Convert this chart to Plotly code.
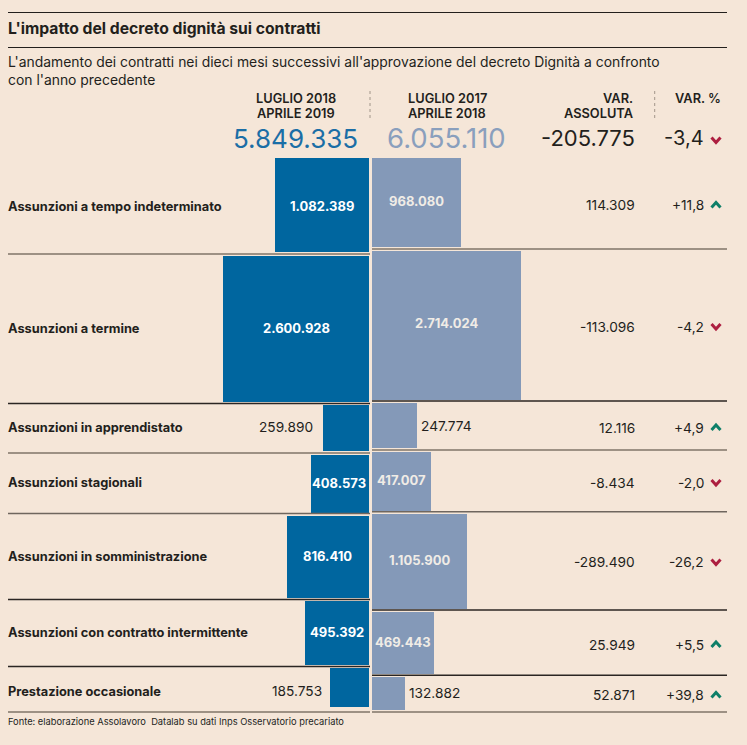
import math
import plotly.graph_objects as go

categories = ["Assunzioni a tempo indeterminato", "Assunzioni a termine", "Assunzioni in apprendistato",
              "Assunzioni stagionali", "Assunzioni in somministrazione",
              "Assunzioni con contratto intermittente", "Prestazione occasionale"]
period_2019 = [1082389, 2600928, 259890, 408573, 816410, 495392, 185753]
period_2018 = [968080, 2714024, 247774, 417007, 1105900, 469443, 132882]
var_abs = [114309, -113096, 12116, -8434, -289490, 25949, 52871]
var_pct = [11.8, -4.2, 4.9, -2.0, -26.2, 5.5, 39.8]
total_2019 = 5849335
total_2018 = 6055110
total_abs = -205775
total_pct = -3.4

# layout, in page pixels (the axes run 0-747 and 745-0)
K = 0.0906  # square side per sqrt(contract)
LEFT_EDGE = 369
RIGHT_EDGE = 372
left_top = [158, 256, 405, 455, 515.7, 601, 668]
right_top = [158, 251, 403, 452, 514, 612, 677]
left_rules = [254, 403.5, 453, 513.5, 599.5, 666.5, 712]
right_rules = [249, 401, 450, 511.7, 610, 675.3, 712]
rule_colors = ["#7f7569", "#2b2623", "#7f7569", "#6f665e", "#2b2623", "#2b2623", "#7f7569"]
label_y = [206, 328, 427, 482.5, 556, 632, 691]
left_val_y = [206, 328, 427, 482.5, 556, 632, 691]
right_val_y = [201, 323, 425.7, 480, 560, 641.7, 693.3]
var_y = [205, 326.5, 427.5, 482.5, 562, 644.5, 695]
left_val_x = [321.5, 296, 313, 339, 327.5, 337, 322]
right_val_x = [416.7, 446, 420.7, 401, 420, 403, 408.7]

BG = "#f5e6d8"
BLUE = "#00669f"
GREY_BLUE = "#8499b8"
INK = "#231f1c"
RED = "#ad1f40"
GREEN = "#0e7f68"
FONT = "Inter"


def num(v):
    return f"{v:,}".replace(",", ".")


def pct(v, sign=True):
    s = f"{v:+.1f}" if sign else f"{v:.1f}"
    return s.replace(".", ",")


left_side = [K * math.sqrt(v) for v in period_2019]
right_side = [K * math.sqrt(v) for v in period_2018]

fig = go.Figure()
fig.add_trace(go.Bar(orientation="h", x=left_side, base=[LEFT_EDGE - s for s in left_side],
                     y=[t + s / 2 for t, s in zip(left_top, left_side)], width=left_side,
                     marker=dict(color=BLUE, line_width=0), hoverinfo="skip"))
fig.add_trace(go.Bar(orientation="h", x=right_side, base=[RIGHT_EDGE] * 7,
                     y=[t + s / 2 for t, s in zip(right_top, right_side)], width=right_side,
                     marker=dict(color=GREY_BLUE, line_width=0), hoverinfo="skip"))

# chevrons
for v, y in zip([total_pct] + var_pct, [140] + var_y):
    d = 1 if v < 0 else -1
    fig.add_trace(go.Scatter(x=[711.5, 716, 720.5], y=[y - d * 2.5, y + d * 2.5, y - d * 2.5], mode="lines",
                             line=dict(color=RED if v < 0 else GREEN, width=3), hoverinfo="skip"))


def text(x, y, s, size, color=INK, anchor="left", weight=400, family=FONT):
    fig.add_annotation(x=x, y=y, text=s, showarrow=False, xanchor=anchor, yanchor="middle", xref="x", yref="y",
                       font=dict(size=size, color=color, family=family, weight=weight), borderpad=0, borderwidth=0)


fig.add_shape(type="line", x0=8, x1=727, y0=12.5, y1=12.5, line=dict(color=INK, width=1.2))
fig.add_shape(type="line", x0=8, x1=727, y0=47.5, y1=47.5, line=dict(color=INK, width=1.2))
for y, c in zip(left_rules, rule_colors):
    fig.add_shape(type="line", x0=8, x1=370, y0=y, y1=y, line=dict(color=c, width=1.4))
for y, c in zip(right_rules, rule_colors):
    fig.add_shape(type="line", x0=372, x1=727, y0=y, y1=y, line=dict(color=c, width=1.4))
for x in [370, 654.7]:
    fig.add_shape(type="line", x0=x, x1=x, y0=91, y1=121, line=dict(color="#8b8176", width=0.8, dash="dot"))

text(8, 28.5, "L'impatto del decreto dignità sui contratti", 15.7, weight=700)
text(8, 62, "L'andamento dei contratti nei dieci mesi successivi all'approvazione del decreto Dignità a confronto", 13.9)
text(8, 80, "con l'anno precedente", 13.9)
text(8, 721, "Fonte: elaborazione Assolavoro  Datalab su dati Inps Osservatorio precariato", 9.3)

text(296, 98, "LUGLIO 2018", 12.8, anchor="center", weight=600)
text(296, 113, "APRILE 2019", 12.8, anchor="center", weight=600)
text(447, 98, "LUGLIO 2017", 12.8, anchor="center", weight=600)
text(447, 113, "APRILE 2018", 12.8, anchor="center", weight=600)
text(633, 98, "VAR.", 12.8, anchor="right", weight=600)
text(633, 113, "ASSOLUTA", 12.8, anchor="right", weight=600)
text(721, 98, "VAR. %", 12.8, anchor="right", weight=600)

text(295.5, 138, num(total_2019), 26, color="#1b6ea6", anchor="center")
text(446.5, 138, num(total_2018), 27.5, color="#8a9fbd", anchor="center")
text(635, 138, num(total_abs), 22, anchor="right")
text(704, 138, pct(total_pct, sign=False), 20, anchor="right")

for i, name in enumerate(categories):
    text(8, label_y[i], name, 12.8, weight=700)
    # small squares carry their number outside
    left_inside = left_side[i] > 50
    right_inside = right_side[i] > 50
    text(left_val_x[i], left_val_y[i], num(period_2019[i]), 13 if left_inside else 13.7,
         color="white" if left_inside else INK, anchor="center" if left_inside else "right",
         weight=700 if left_inside else 400)
    text(right_val_x[i], right_val_y[i], num(period_2018[i]), 13 if right_inside else 13.7,
         color="#f0ece6" if right_inside else INK, anchor="center" if right_inside else "left",
         weight=700 if right_inside else 400)
    text(635, var_y[i], num(var_abs[i]), 13.7, anchor="right")
    text(704, var_y[i], pct(var_pct[i]), 13.7, anchor="right")

fig.update_layout(width=747, height=745, margin=dict(l=0, r=0, t=0, b=0), paper_bgcolor=BG, plot_bgcolor=BG,
                  showlegend=False, barmode="overlay", bargap=0,
                  xaxis=dict(range=[0, 747], visible=False, fixedrange=True),
                  yaxis=dict(range=[745, 0], visible=False, fixedrange=True))
fig.write_html("out.html", config={"displayModeBar": False}, post_script="document.body.style.margin='0';")
